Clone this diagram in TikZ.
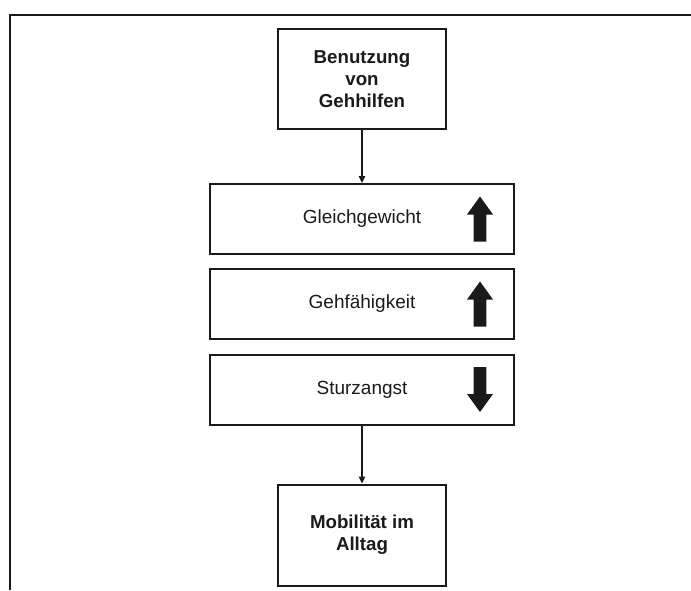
\documentclass[tikz,border=0pt]{standalone}
\usepackage{fontspec}
\setmainfont{Liberation Sans}
\usetikzlibrary{arrows.meta,calc}
\definecolor{ink}{HTML}{1A1A1A}
\tikzset{
  box/.style={draw=ink, line width=2pt, inner sep=0pt, text=ink, align=center},
  bigbox/.style={box, minimum width=168pt, minimum height=100pt, font=\bfseries\fontsize{18.7}{22}\selectfont},
  widebox/.style={box, minimum width=304pt, minimum height=70pt, font=\fontsize{19}{22}\selectfont},
  conn/.style={draw=ink, line width=1.2pt, -{Triangle[length=7pt,width=6.5pt]}},
  frameline/.style={draw=ink, line width=2pt},
  uparrow/.pic={\fill[ink] (0,-22.5) -- (13,-4.5) -- (6.3,-4.5) -- (6.3,22.5) -- (-6.3,22.5) -- (-6.3,-4.5) -- (-13,-4.5) -- cycle;},
  downarrow/.pic={\fill[ink] (0,22.5) -- (13,4.5) -- (6.3,4.5) -- (6.3,-22.5) -- (-6.3,-22.5) -- (-6.3,4.5) -- (-13,4.5) -- cycle;}
}
\begin{document}
\begin{tikzpicture}[x=1pt,y=-1pt]
\useasboundingbox (0,0) rectangle (691,590);
\draw[frameline] (10,590) -- (10,15) -- (691,15);
\node[bigbox] (top) at (362,79) {Benutzung\\von\\Gehhilfen};
\node[widebox] (gleich) at (362,219) {Gleichgewicht};
\node[widebox] (geh) at (362,304) {Gehfähigkeit};
\node[widebox] (sturz) at (362,389.5) {Sturzangst};
\node[bigbox, minimum height=101pt] (mob) at (362,535) {Mobilität im\\Alltag};
\pic at ($(gleich.east)+(-35,0)$) {uparrow};
\pic at ($(geh.east)+(-35,0)$) {uparrow};
\pic at ($(sturz.east)+(-35,0)$) {downarrow};
\draw[conn] (top.south) -- (gleich.north);
\draw[conn] (sturz.south) -- (mob.north);
\end{tikzpicture}
\end{document}
